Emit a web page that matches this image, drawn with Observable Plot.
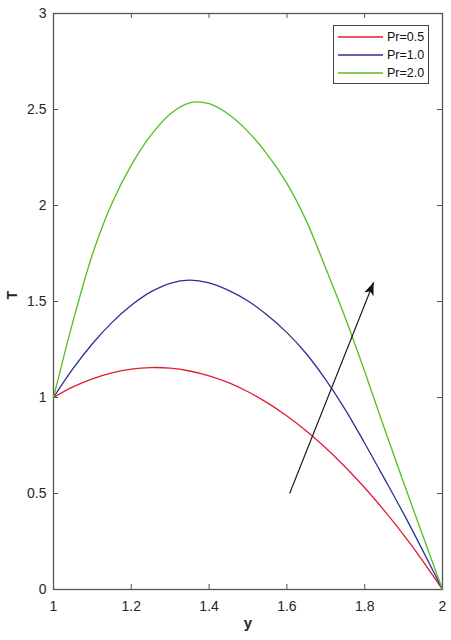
<!DOCTYPE html>
<html>
<head>
<meta charset="utf-8">
<script src="https://cdn.jsdelivr.net/npm/d3@7"></script>
<script src="https://cdn.jsdelivr.net/npm/@observablehq/plot@0.6"></script>
<style>
  html, body { margin: 0; padding: 0; background: #fff; }
  #wrap { position: relative; width: 451px; height: 640px; font-family: "Liberation Sans", Arial, sans-serif; }
  #legend { position: absolute; left: 333px; top: 25px; width: 96px; height: 59px; border: 1px solid #444; background: #fff; box-sizing: border-box; }
  #legend .row { position: absolute; left: 4px; height: 18px; display: flex; align-items: center; font-size: 12.5px; color: #111; }
  #legend svg { margin-right: 4px; }
</style>
</head>
<body>
<div id="wrap"><div id="chart"></div><div id="legend"></div></div>
<script>
// ---- data ----
const yPos = [1.00, 1.05, 1.10, 1.15, 1.20, 1.25, 1.30, 1.35, 1.40, 1.45, 1.50,
              1.55, 1.60, 1.65, 1.70, 1.75, 1.80, 1.85, 1.90, 1.95, 2.00];
const tPr05 = [1.000, 1.055, 1.097, 1.128, 1.148, 1.156, 1.153, 1.138, 1.113, 1.077, 1.030,
               0.972, 0.904, 0.826, 0.737, 0.638, 0.530, 0.412, 0.284, 0.147, 0.000];
const tPr10 = [1.000, 1.150, 1.280, 1.390, 1.480, 1.550, 1.595, 1.611, 1.597, 1.558, 1.503,
               1.428, 1.338, 1.228, 1.092, 0.937, 0.762, 0.580, 0.395, 0.200, 0.000];
const tPr20 = [1.000, 1.395, 1.745, 2.010, 2.210, 2.365, 2.477, 2.535, 2.530, 2.475, 2.385,
               2.265, 2.115, 1.920, 1.672, 1.415, 1.135, 0.842, 0.557, 0.277, 0.000];
const seriesNames = ["Pr=0.5", "Pr=1.0", "Pr=2.0"];
const seriesColors = ["#e21c32", "#2c2f96", "#52bf1c"];
const xTicks = [1, 1.2, 1.4, 1.6, 1.8, 2];
const yTicks = [0, 0.5, 1, 1.5, 2, 2.5, 3];
const arrowStart = [1.607, 0.50];
const arrowEnd = [1.823, 1.60];

const seriesValues = [tPr05, tPr10, tPr20];
const rows = seriesNames.flatMap((name, s) => yPos.map((x, i) => ({series: name, x, t: seriesValues[s][i]})));
const arrowRows = [{x1: arrowStart[0], y1: arrowStart[1], x2: arrowEnd[0], y2: arrowEnd[1]}];

const W = 451, H = 640, mL = 53, mR = 9, mT = 13, mB = 51;
const innerW = W - mL - mR, innerH = H - mT - mB;
const axisColor = "#555";
const tickLen = 5;

function filledArrow(color) {
  const ns = "http://www.w3.org/2000/svg";
  const m = document.createElementNS(ns, "marker");
  m.setAttribute("viewBox", "-13 -6 14 12");
  m.setAttribute("markerUnits", "userSpaceOnUse");
  m.setAttribute("markerWidth", "14");
  m.setAttribute("markerHeight", "12");
  m.setAttribute("refX", "0");
  m.setAttribute("refY", "0");
  m.setAttribute("orient", "auto");
  const p = document.createElementNS(ns, "path");
  p.setAttribute("d", "M0,0L-13,-5L-9.5,0L-13,5Z");
  p.setAttribute("fill", color);
  p.setAttribute("stroke", "none");
  m.appendChild(p);
  return m;
}

const chart = Plot.plot({
  width: W, height: H,
  marginLeft: mL, marginRight: mR, marginTop: mT, marginBottom: mB,
  style: {fontFamily: "'Liberation Sans', Arial, sans-serif", fontSize: "14px", color: "#262626", background: "#fff"},
  x: {domain: [1, 2]},
  y: {domain: [0, 3]},
  color: {domain: seriesNames, range: seriesColors},
  marks: [
    Plot.frame({stroke: axisColor, strokeWidth: 1.3}),
    // inward ticks on all four sides
    Plot.tickX(xTicks, {x: d => d, stroke: axisColor, insetTop: innerH - tickLen}),
    Plot.tickX(xTicks, {x: d => d, stroke: axisColor, insetBottom: innerH - tickLen}),
    Plot.tickY(yTicks, {y: d => d, stroke: axisColor, insetRight: innerW - tickLen}),
    Plot.tickY(yTicks, {y: d => d, stroke: axisColor, insetLeft: innerW - tickLen}),
    Plot.axisX({ticks: xTicks, tickSize: 0, tickPadding: 12, tickFormat: d => String(d), label: null, fontSize: 14}),
    Plot.axisY({ticks: yTicks, tickSize: 0, tickPadding: 7, tickFormat: d => String(d), label: null, fontSize: 14}),
    Plot.line(rows, {x: "x", y: "t", z: "series", stroke: "series", strokeWidth: 1.3, curve: "catmull-rom"}),
    Plot.link(arrowRows, {x1: "x1", y1: "y1", x2: "x2", y2: "y2", stroke: "#111", strokeWidth: 1.1, markerEnd: filledArrow}),
    Plot.text(["y"], {frameAnchor: "bottom", dy: 38, text: d => d, fontWeight: "bold", fontSize: 15, fill: "#262626"}),
    Plot.text(["T"], {frameAnchor: "left", dx: -41, dy: -2, text: d => d, rotate: -90, fontWeight: "bold", fontSize: 14, fill: "#262626"})
  ]
});
document.getElementById("chart").appendChild(chart);

// legend
const legend = document.getElementById("legend");
seriesNames.forEach((name, i) => {
  const row = document.createElement("div");
  row.className = "row";
  row.style.top = (2 + i * 18) + "px";
  row.innerHTML = `<svg width="45" height="4"><line x1="0" y1="2" x2="45" y2="2" stroke="${seriesColors[i]}" stroke-width="1.6"/></svg><span>${name}</span>`;
  legend.appendChild(row);
});
</script>
</body>
</html>
